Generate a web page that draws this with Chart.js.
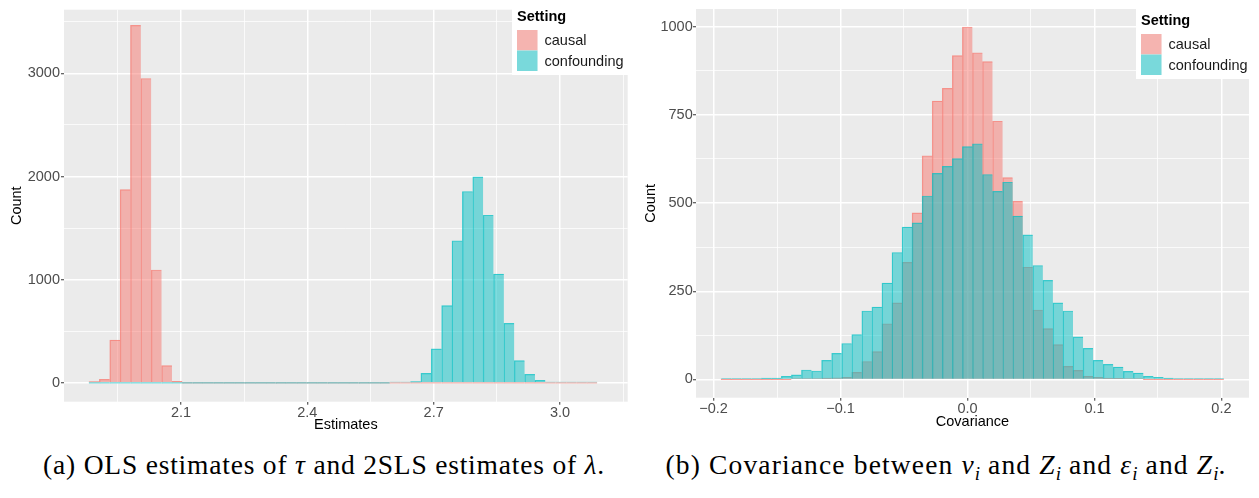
<!DOCTYPE html>
<html>
<head>
<meta charset="utf-8">
<script src="https://cdn.jsdelivr.net/npm/chart.js@4.4.1/dist/chart.umd.min.js"></script>
<style>
  html, body { margin: 0; padding: 0; background: #ffffff; width: 1259px; height: 498px; overflow: hidden; }
  #wrapA { position: absolute; left: 0; top: 0; width: 640px; height: 440px; }
  #wrapB { position: absolute; left: 640px; top: 0; width: 619px; height: 440px; }
  .cap { position: absolute; top: 448px; width: 640px; text-align: center; line-height: 34px;
         font-family: "Liberation Serif", "DejaVu Serif", serif; font-size: 27.5px; letter-spacing: 0.8px;
         color: #000; white-space: nowrap; }
  .cap i { font-style: italic; }
  .cap sub { font-size: 19px; vertical-align: -6px; line-height: 0; letter-spacing: 0; }
</style>
</head>
<body>
<div id="wrapA"><canvas id="chartA" width="640" height="440"></canvas></div>
<div id="wrapB"><canvas id="chartB" width="619" height="440"></canvas></div>
<div class="cap" style="left:4px;">(a) OLS estimates of <i>τ</i> and 2SLS estimates of <i>λ</i>.</div>
<div class="cap" style="left:626px; letter-spacing: 1.15px;">(b) Covariance between <i>v</i><sub><i>i</i></sub> and <i>Z</i><sub><i>i</i></sub> and <i>ε</i><sub><i>i</i></sub> and <i>Z</i><sub><i>i</i></sub>.</div>

<script>
// ---------------- DATA ----------------
const settingLabels = ['causal', 'confounding'];
const legendTitle = 'Setting';

// Panel (a): OLS / 2SLS estimates histogram (49 bins)
const estBinStart = 1.8815;
const estBinWidth = 0.02463;
const estCausal = [15, 35, 416, 1873, 3464, 2950, 1095, 169, 16, 0,
                   0, 0, 0, 0, 0, 0, 0, 0, 0, 0,
                   0, 0, 0, 0, 0, 0, 0, 0, 0, 0,
                   0, 0, 0, 0, 0, 0, 0, 0, 0, 0,
                   0, 0, 0, 0, 0, 0, 0, 0, 0];
const estConfounding = [0, 0, 0, 0, 0, 0, 0, 0, 0, 0,
                        0, 0, 0, 0, 0, 0, 0, 0, 0, 0,
                        0, 0, 0, 0, 0, 0, 0, 0, 0, 1,
                        5, 15, 93, 330, 750, 1378, 1855, 1997, 1625, 1054,
                        578, 217, 83, 26, 7, 7, 2, 2, 2];
const estMajorTicks = [2.1, 2.4, 2.7, 3.0];
const estTickLabels = ['2.1', '2.4', '2.7', '3.0'];
const estMinorTicks = [1.95, 2.25, 2.55, 2.85, 3.15];
const estCountTicks = [0, 1000, 2000, 3000];
const estCountLabels = ['0', '1000', '2000', '3000'];
const estCountMinor = [500, 1500, 2500, 3500];

// Panel (b): covariance histogram (50 bins)
const covBinStart = -0.1941;
const covBinWidth = 0.00792;
const covCausal = [0, 0, 0, 0, 0, 0, 0, 1, 1, 2,
                   4, 5, 6, 20, 51, 79, 158, 217, 332, 472,
                   634, 789, 825, 918, 999, 926, 901, 732, 572, 505,
                   318, 197, 144, 99, 37, 26, 9, 6, 4, 3,
                   2, 1, 0, 0, 0, 0, 0, 0, 0, 0];
const covConfounding = [1, 1, 1, 1, 4, 4, 9, 13, 27, 24,
                        54, 74, 102, 127, 194, 205, 273, 360, 432, 444,
                        520, 584, 604, 626, 660, 668, 581, 533, 559, 463,
                        410, 323, 281, 217, 194, 121, 88, 54, 43, 35,
                        23, 18, 9, 6, 4, 1, 1, 1, 1, 1];
const covMajorTicks = [-0.2, -0.1, 0.0, 0.1, 0.2];
const covTickLabels = ['\u22120.2', '\u22120.1', '0.0', '0.1', '0.2'];
const covMinorTicks = [-0.15, -0.05, 0.05, 0.15];
const covCountTicks = [0, 250, 500, 750, 1000];
const covCountLabels = ['0', '250', '500', '750', '1000'];
const covCountMinor = [125, 375, 625, 875];

// ---------------- STYLE ----------------
const FONT = '"Liberation Sans", Arial, sans-serif';
const fillCausal = 'rgba(248,118,109,0.5)';
const lineCausal = 'rgba(248,118,109,0.68)';
const fillConf = 'rgba(0,191,196,0.5)';
const lineConf = 'rgba(0,191,196,0.68)';

const panelBg = {
  id: 'panelBg',
  beforeDraw(chart) {
    const {ctx, chartArea: a} = chart;
    ctx.save();
    ctx.fillStyle = '#EBEBEB';
    ctx.fillRect(a.left, a.top, a.right - a.left, a.bottom - a.top);
    ctx.restore();
  }
};

const ggLegend = {
  id: 'ggLegend',
  afterDraw(chart, args, opts) {
    const ctx = chart.ctx;
    const x = opts.x, y = opts.y, w = opts.w, h = opts.h;
    ctx.save();
    ctx.fillStyle = '#FFFFFF';
    ctx.fillRect(x, y, w, h);
    ctx.fillStyle = '#000000';
    ctx.textBaseline = 'middle';
    ctx.textAlign = 'left';
    ctx.font = 'bold 14.5px ' + FONT;
    ctx.fillText(legendTitle, x + 5, y + 11.5);
    ctx.font = '14.5px ' + FONT;
    const items = [chart.data.datasets[1], chart.data.datasets[0]];
    items.forEach((ds, i) => {
      const sy = y + 25 + i * 20.5;
      ctx.fillStyle = '#F2F2F2';
      ctx.fillRect(x + 5, sy, 20.5, 20.5);
      ctx.fillStyle = ds.backgroundColor;
      ctx.fillRect(x + 5, sy, 20.5, 20.5);
      ctx.fillStyle = '#1A1A1A';
      ctx.fillText(ds.label, x + 32.5, sy + 11);
    });
    ctx.restore();
  }
};

function binData(start, width, counts) {
  return counts.map((c, i) => ({x: start + (i + 0.5) * width, y: c}));
}

function near(list, v) {
  return list.findIndex(t => Math.abs(t - v) < 1e-6);
}

function axisCfg(o) {
  const allTicks = o.major.map(v => ({value: v, isMajor: true}))
    .concat(o.minor.map(v => ({value: v, isMajor: false})))
    .sort((a, b) => a.value - b.value);
  return {
    type: 'linear',
    min: o.min, max: o.max,
    offset: false,
    bounds: 'data',
    afterBuildTicks: s => { s.ticks = allTicks.map(t => ({value: t.value, isMajor: t.isMajor})); },
    afterFit: s => { if (o.horizontal) s.height = o.size; else s.width = o.size; },
    ticks: {
      autoSkip: false, maxRotation: 0, minRotation: 0, includeBounds: false,
      padding: o.tickPad,
      color: '#4D4D4D',
      font: {family: FONT, size: 14.5},
      callback: (v) => { const k = near(o.major, v); return k >= 0 ? o.labels[k] : ''; }
    },
    grid: {
      offset: false,
      color: '#FFFFFF',
      lineWidth: ctx => (ctx.tick && ctx.tick.isMajor) ? 1.5 : 0.75,
      drawTicks: true,
      tickLength: 3,
      tickWidth: 1,
      tickColor: ctx => (ctx.tick && ctx.tick.isMajor) ? '#333333' : 'rgba(0,0,0,0)'
    },
    border: {display: false},
    title: {
      display: true, text: o.title, color: '#000000',
      font: {family: FONT, size: 14.5},
      padding: o.titlePad
    }
  };
}

function makeChart(id, p) {
  return new Chart(document.getElementById(id), {
    type: 'bar',
    data: {
      datasets: [
        {label: settingLabels[1], data: binData(p.start, p.width, p.conf),
         backgroundColor: fillConf, borderColor: lineConf, order: 1},
        {label: settingLabels[0], data: binData(p.start, p.width, p.causal),
         backgroundColor: fillCausal, borderColor: lineCausal, order: 2}
      ]
    },
    options: {
      responsive: false,
      animation: false,
      events: [],
      layout: {padding: p.padding},
      datasets: {
        bar: {
          grouped: false, barPercentage: 1, categoryPercentage: 1,
          borderWidth: {left: 0.7, right: 0, top: 0.5, bottom: 0},
          borderSkipped: false, minBarLength: 1
        }
      },
      plugins: {
        legend: {display: false},
        tooltip: {enabled: false},
        ggLegend: p.legend
      },
      scales: {
        x: axisCfg({horizontal: true, min: p.xMin, max: p.xMax, major: p.xMajor, labels: p.xLabels,
                    minor: p.xMinor, size: p.xSize, tickPad: p.xTickPad, title: p.xTitle, titlePad: p.xTitlePad}),
        y: axisCfg({horizontal: false, min: p.yMin, max: p.yMax, major: p.yMajor, labels: p.yLabels,
                    minor: p.yMinor, size: p.ySize, tickPad: p.yTickPad, title: 'Count', titlePad: p.yTitlePad})
      }
    },
    plugins: [panelBg, ggLegend]
  });
}

makeChart('chartA', {
  start: estBinStart, width: estBinWidth, causal: estCausal, conf: estConfounding,
  padding: {left: 0, top: 3, right: 12.3, bottom: 0},
  xMin: 1.8222, xMax: 3.1608, xMajor: estMajorTicks, xLabels: estTickLabels, xMinor: estMinorTicks,
  xSize: 38.3, xTickPad: 0, xTitle: 'Estimates', xTitlePad: {top: 0, bottom: 6},
  yMin: -181, yMax: 3616, yMajor: estCountTicks, yLabels: estCountLabels, yMinor: estCountMinor,
  ySize: 64, yTickPad: 1, yTitlePad: {top: 8.5, bottom: 0},
  legend: {x: 512, y: 5, w: 116, h: 70}
});

makeChart('chartB', {
  start: covBinStart, width: covBinWidth, causal: covCausal, conf: covConfounding,
  padding: {left: 0, top: 4.7, right: 10, bottom: 0},
  xMin: -0.2138, xMax: 0.2217, xMajor: covMajorTicks, xLabels: covTickLabels, xMinor: covMinorTicks,
  xSize: 42.3, xTickPad: 0, xTitle: 'Covariance', xTitlePad: {top: 0, bottom: 9.5},
  yMin: -51.6, yMax: 1050, yMajor: covCountTicks, yLabels: covCountLabels, yMinor: covCountMinor,
  ySize: 56, yTickPad: 0.3, yTitlePad: {top: 2.5, bottom: 0},
  legend: {x: 496, y: 9, w: 113, h: 70}
});
</script>
</body>
</html>
